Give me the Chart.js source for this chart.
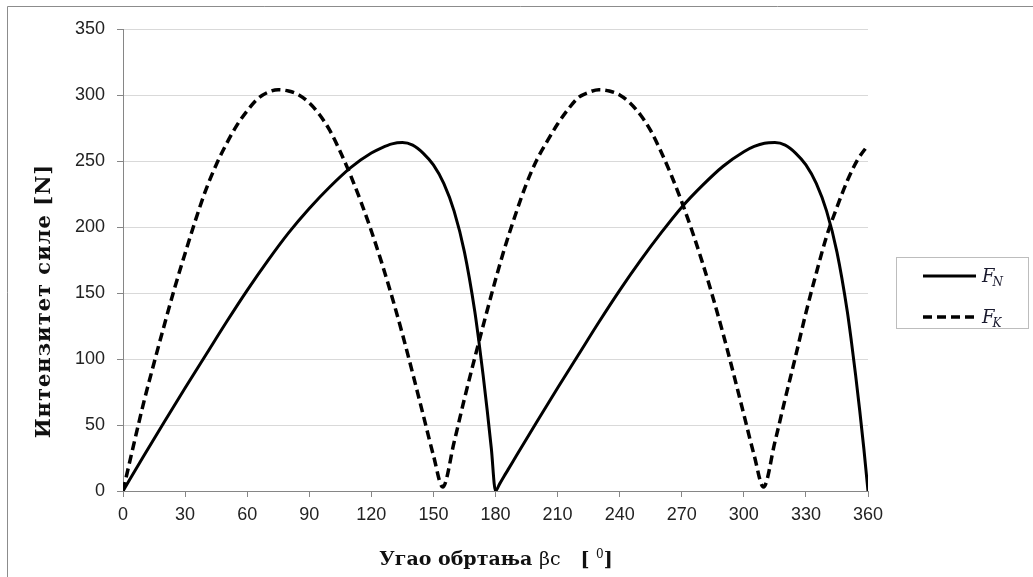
<!DOCTYPE html>
<html>
<head>
<meta charset="utf-8">
<script src="https://cdn.jsdelivr.net/npm/chart.js@4.4.1/dist/chart.umd.min.js"></script>
<style>
  html, body { margin: 0; padding: 0; background: #ffffff; }
  #wrap { width: 1033px; height: 577px; position: relative; }
</style>
</head>
<body>
<div id="wrap"><canvas id="c" width="1033" height="577"></canvas></div>
<script>
// ---- Data ----
const xTickValues = [0, 30, 60, 90, 120, 150, 180, 210, 240, 270, 300, 330, 360];
const yTickValues = [0, 50, 100, 150, 200, 250, 300, 350];

const fnAngles = [0, 10, 20, 30, 40, 50, 60, 70, 80, 90, 100, 110, 120, 125, 130, 135, 140, 145, 150, 155, 160, 165, 170, 172, 174, 176, 178, 180,
                  182, 184, 186, 190, 200, 210, 220, 230, 240, 250, 260, 270, 280, 290, 300, 305, 310, 315, 320, 325, 330, 335, 340, 345, 350, 352, 354, 356, 358, 360];
const fnValues = [0, 26.5, 52.5, 78, 103, 128, 152, 174.5, 195.5, 214, 230.5, 245, 256, 260, 263, 264, 262, 256, 247, 233, 212, 181, 136, 113, 88, 61, 32, 0,
                  5.4, 10.8, 16, 26.5, 52.5, 78, 103, 128, 152, 174.5, 195.5, 215, 231.5, 246, 257, 261, 263.5, 264, 262, 256, 247, 233, 212, 181, 136, 113, 88, 61, 32, 0];

const fkAngles = [0, 5, 10, 15, 20, 25, 30, 35, 40, 45, 50, 55, 60, 65, 70, 75, 80, 85, 90, 95, 100, 105, 110, 115, 120, 125, 130, 135, 140, 145, 150, 154.5,
                  160, 165, 170, 175, 180, 185, 190, 195, 200, 205, 210, 215, 220, 225, 230, 235, 240, 245, 250, 255, 260, 265, 270, 275, 280, 285, 290, 295, 300, 305, 309.5,
                  315, 320, 325, 330, 335, 340, 345, 350, 355, 360];
const fkValues = [0, 34, 67, 97, 126, 154, 180, 205, 228, 247, 263, 277, 288, 297, 302, 304, 303, 300, 294, 285, 273, 257, 239, 219, 197, 173, 147, 119, 89, 58, 27, 3,
                  37, 70, 101, 131, 160, 187, 211, 233, 251, 265, 278, 289, 298, 302, 304, 303, 300, 294, 285, 273, 257, 239, 219, 197, 173, 147, 119, 89, 58, 27, 3,
                  37, 70, 102, 135, 165, 193, 215, 235, 251, 262];

const seriesLabels = ['FN', 'FK'];
const xTitle = [
  { t: 'Угао обртања ', w: 'bold' },
  { t: 'βc', w: 'normal' },
  { t: '   [ ', w: 'bold' },
  { t: '0', w: 'normal', sup: true },
  { t: ']', w: 'bold' }
];
const yTitle = 'Интензитет силе [N]';
const legendItems = [
  { main: 'F', sub: 'N', dash: [] },
  { main: 'F', sub: 'K', dash: [9, 5] }
];

function pts(xs, ys) { return xs.map((x, i) => ({ x: x, y: ys[i] })); }

const serif = '"DejaVu Serif", serif';

const decor = {
  id: 'decor',
  beforeDraw(chart) {
    const ctx = chart.ctx;
    ctx.save();
    ctx.fillStyle = '#ffffff';
    ctx.fillRect(0, 0, chart.width, chart.height);
    ctx.strokeStyle = '#8c8c8c';
    ctx.lineWidth = 1;
    ctx.beginPath();
    ctx.moveTo(7.5, 600); ctx.lineTo(7.5, 6.5); ctx.lineTo(1100, 6.5);
    ctx.stroke();
    ctx.restore();
  },
  afterDraw(chart) {
    const ctx = chart.ctx;
    ctx.save();
    ctx.fillStyle = '#111';
    ctx.textBaseline = 'alphabetic';
    // x title
    const size = 19;
    let total = 0;
    const widths = xTitle.map(s => {
      ctx.font = (s.w === 'bold' ? 'bold ' : '') + (s.sup ? 12 : size) + 'px ' + serif;
      const w = ctx.measureText(s.t).width; total += w; return w;
    });
    let x = 496 - total / 2;
    const base = 565;
    xTitle.forEach((s, i) => {
      ctx.font = (s.w === 'bold' ? 'bold ' : '') + (s.sup ? 12 : size) + 'px ' + serif;
      ctx.fillText(s.t, x, s.sup ? base - 7 : base);
      x += widths[i];
    });
    // y title
    ctx.save();
    ctx.translate(50, 301);
    ctx.rotate(-Math.PI / 2);
    ctx.font = 'bold 21px ' + serif;
    try { ctx.letterSpacing = '1px'; } catch (e) {}
    ctx.textAlign = 'center';
    ctx.fillText(yTitle, 0, 0);
    try { ctx.letterSpacing = '0px'; } catch (e) {}
    ctx.restore();
    // legend
    ctx.strokeStyle = '#bdbdbd';
    ctx.lineWidth = 1;
    ctx.strokeRect(896.5, 257.5, 132, 71);
    legendItems.forEach((it, i) => {
      const y = 276 + i * 41;
      ctx.strokeStyle = '#000';
      ctx.lineWidth = i === 0 ? 3 : 3.5;
      ctx.setLineDash(it.dash);
      ctx.beginPath(); ctx.moveTo(923, y); ctx.lineTo(976, y); ctx.stroke();
      ctx.setLineDash([]);
      ctx.fillStyle = '#1a1a2e';
      ctx.font = 'italic 18px ' + serif;
      ctx.fillText(it.main, 982, y + 6);
      const fw = ctx.measureText(it.main).width;
      ctx.font = 'italic 12px ' + serif;
      ctx.fillText(it.sub, 982 + fw - 2, y + 10);
    });
    ctx.restore();
  }
};

new Chart(document.getElementById('c'), {
  type: 'line',
  data: {
    datasets: [
      { label: seriesLabels[0], data: pts(fnAngles, fnValues), borderColor: '#000', borderWidth: 3, pointRadius: 0, cubicInterpolationMode: 'monotone', fill: false },
      { label: seriesLabels[1], data: pts(fkAngles, fkValues), borderColor: '#000', borderWidth: 3.5, borderDash: [9, 5], pointRadius: 0, cubicInterpolationMode: 'monotone', fill: false }
    ]
  },
  options: {
    responsive: false,
    animation: false,
    devicePixelRatio: 1,
    layout: { padding: { top: 29, right: 165, left: 0, bottom: 0 } },
    plugins: { legend: { display: false }, tooltip: { enabled: false }, title: { display: false } },
    scales: {
      x: {
        type: 'linear', min: 0, max: 360,
        afterFit(s) { s.height = 86; },
        afterBuildTicks(s) { s.ticks = xTickValues.map(v => ({ value: v })); },
        ticks: { color: '#222', font: { family: '"Liberation Sans", Arial, sans-serif', size: 18 }, padding: 7, maxRotation: 0, autoSkip: false },
        grid: { drawOnChartArea: false, color: '#868686', tickLength: 6, tickColor: '#868686' },
        border: { color: '#868686', width: 1 }
      },
      y: {
        type: 'linear', min: 0, max: 350,
        afterFit(s) { s.width = 123; },
        afterBuildTicks(s) { s.ticks = yTickValues.map(v => ({ value: v })); },
        ticks: { color: '#222', font: { family: '"Liberation Sans", Arial, sans-serif', size: 18 }, padding: 12 },
        grid: { color: '#d9d9d9', tickLength: 6, tickColor: '#868686' },
        border: { color: '#868686', width: 1 }
      }
    }
  },
  plugins: [decor]
});
</script>
</body>
</html>
